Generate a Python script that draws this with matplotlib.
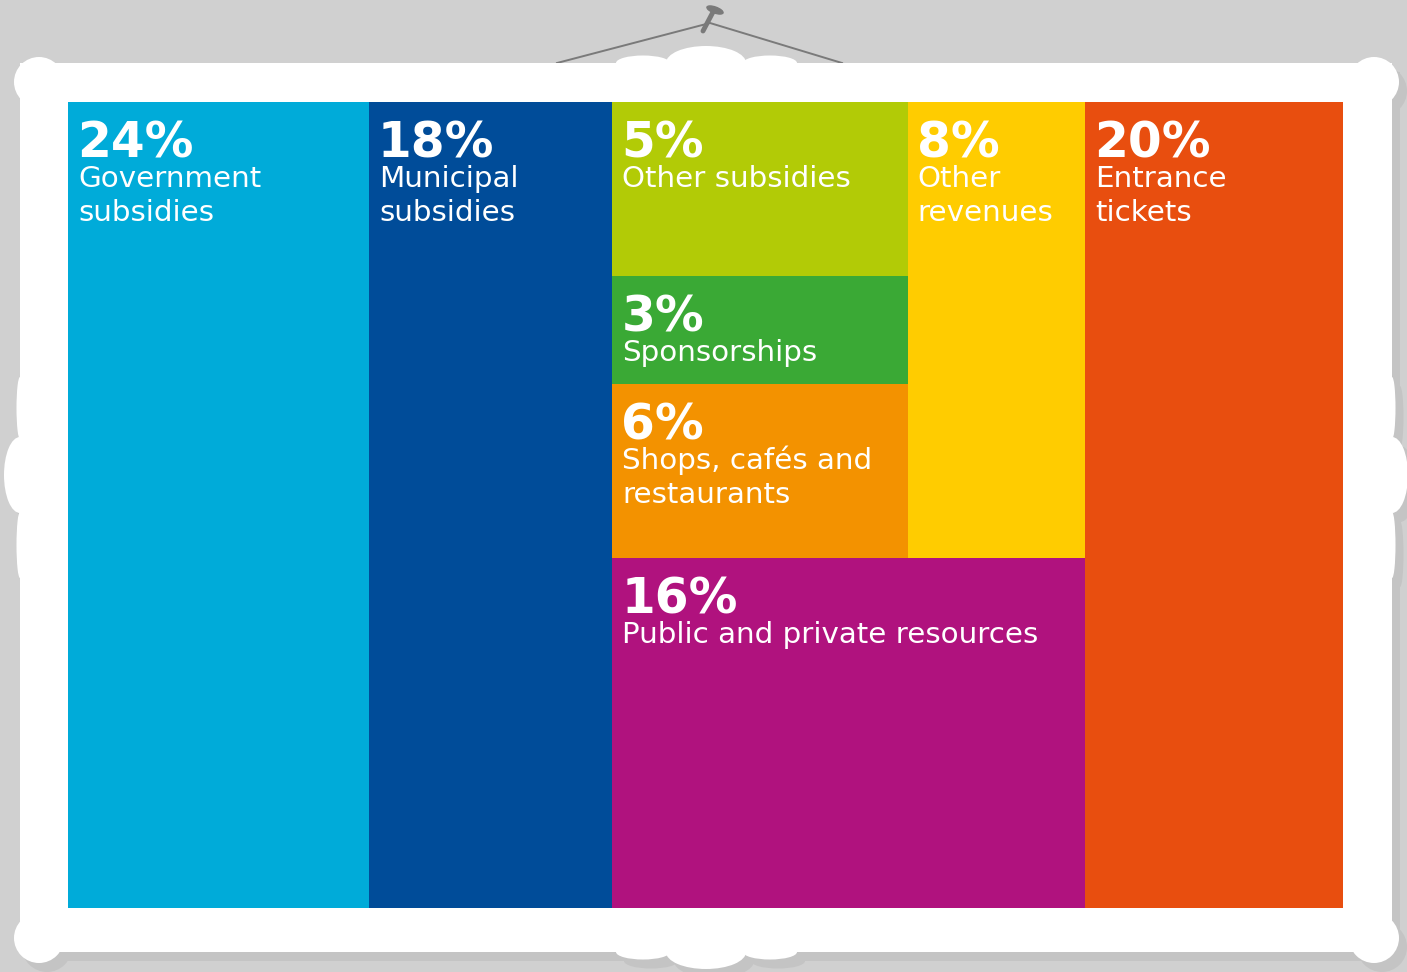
import matplotlib
matplotlib.use('Agg')
import matplotlib.pyplot as plt
from matplotlib.patches import Rectangle, Ellipse, Circle

# shares of the budget (percent, as printed)
labels = ['Government\nsubsidies', 'Municipal\nsubsidies', 'Other subsidies',
          'Sponsorships', 'Shops, cafés and\nrestaurants', 'Other\nrevenues',
          'Public and private resources', 'Entrance\ntickets']
shares = [24, 18, 5, 3, 6, 8, 16, 20]
# box areas as drawn in the picture (percent of the whole)
areas = [23.6, 19.1, 5.0, 3.1, 5.0, 7.9, 16.1, 20.2]
colors = ['#00abd9', '#004c99', '#b2cb06', '#3aa935',
          '#f39200', '#ffcc00', '#b0127e', '#e84e0f']

# nesting of the slice-and-dice layout (indices into the lists above)
tree = [0, 1, [[[2, 3, 4], 5], 6], 7]

W, H = 1407, 972
BG = '#d0d0d0'
SHADOW = '#c4c4c4'


def total(node):
    if isinstance(node, list):
        return sum(total(n) for n in node)
    return areas[node]


def layout(node, x, y, w, h, horizontal, out):
    if not isinstance(node, list):
        out[node] = (x, y, w, h)
        return
    s = total(node)
    pos = x if horizontal else y
    for child in node:
        frac = total(child) / s
        if horizontal:
            layout(child, pos, y, w * frac, h, False, out)
            pos += w * frac
        else:
            layout(child, x, pos, w, h * frac, True, out)
            pos += h * frac


def frame(ax, dx, dy, color, z):
    # white picture frame with round knobs
    ax.add_patch(Rectangle((20 + dx, 63 + dy), 1372, 889, color=color, zorder=z, lw=0))
    for cx, cy in [(39, 82), (1374, 82), (39, 938), (1374, 938)]:
        ax.add_patch(Circle((cx + dx, cy + dy), 25, color=color, zorder=z, lw=0))
    for cy in [63, 952]:
        ax.add_patch(Ellipse((706 + dx, cy + dy), 80, 34, color=color, zorder=z, lw=0))
        ax.add_patch(Ellipse((643 + dx, cy + dy), 54, 15, color=color, zorder=z, lw=0))
        ax.add_patch(Ellipse((770 + dx, cy + dy), 54, 15, color=color, zorder=z, lw=0))
    for cx in [20, 1392]:
        ax.add_patch(Ellipse((cx + dx, 475 + dy), 32, 76, color=color, zorder=z, lw=0))
        ax.add_patch(Ellipse((cx + dx, 408 + dy), 7, 62, color=color, zorder=z, lw=0))
        ax.add_patch(Ellipse((cx + dx, 545 + dy), 7, 66, color=color, zorder=z, lw=0))


fig = plt.figure(figsize=(W / 100, H / 100), dpi=100)
fig.patch.set_facecolor(BG)
ax = fig.add_axes([0, 0, 1, 1])
ax.set_xlim(0, W)
ax.set_ylim(H, 0)
ax.axis('off')

# hanging string and nail
ax.plot([557, 710, 842], [63, 23, 63], color='#7a7a7a', lw=1.4, zorder=1)
ax.plot([713, 703], [12, 31], color='#7a7a7a', lw=3.5, solid_capstyle='round', zorder=1)
ax.add_patch(Ellipse((715, 10), 17, 6, angle=20, color='#7a7a7a', zorder=1))

frame(ax, 8, 9, SHADOW, 2)
frame(ax, 0, 0, 'white', 3)

rects = {}
layout(tree, 68, 102, 1275, 806, True, rects)

for i, (x, y, w, h) in rects.items():
    ax.add_patch(Rectangle((x, y), w, h, facecolor=colors[i], edgecolor='none', zorder=4))
    ax.text(x + 9, y + 55, f'{shares[i]}%', color='white', fontsize=35,
            fontweight='bold', family='DejaVu Sans', va='baseline', ha='left', zorder=5)
    for k, line in enumerate(labels[i].split('\n')):
        ax.text(x + 10, y + 85 + 34 * k, line, color='white', fontsize=21.2,
                family='DejaVu Sans', va='baseline', ha='left', zorder=5)

fig.savefig('out.png', dpi=100, facecolor=BG)
